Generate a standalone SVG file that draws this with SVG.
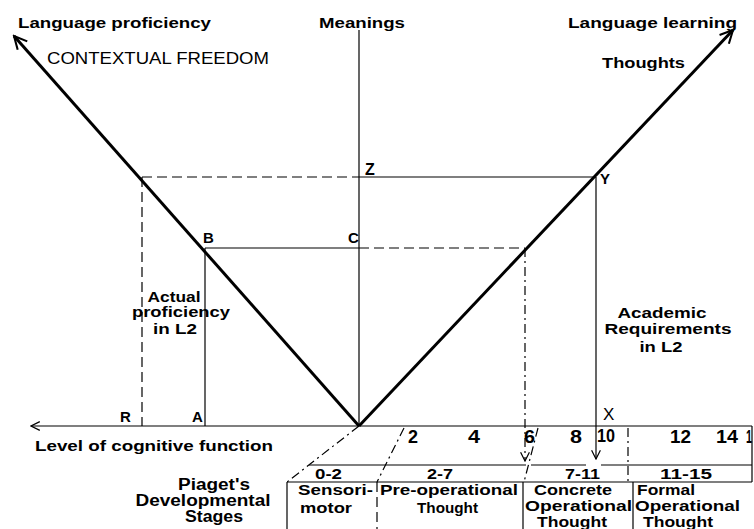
<svg xmlns="http://www.w3.org/2000/svg" width="754" height="529" viewBox="0 0 754 529">
<defs>
<style>
text{font-family:"Liberation Sans",Arial,sans-serif;fill:#000;}
.b{font-weight:bold;font-size:15px;}
.r{font-size:16px;}
.n{font-weight:bold;font-size:19px;}
.s{font-weight:bold;font-size:15px;}
.m{text-anchor:middle;}
.thin{stroke:#000;stroke-width:1.2;fill:none;}
.thick{stroke:#000;stroke-width:3;fill:none;}
.dash{stroke:#000;stroke-width:1.2;fill:none;stroke-dasharray:10 5;}
.dd{stroke:#000;stroke-width:1.2;fill:none;stroke-dasharray:9 4 2 4;}
</style>
<marker id="big" viewBox="0 0 10 10" refX="9" refY="5" markerUnits="userSpaceOnUse" markerWidth="16" markerHeight="16" orient="auto">
<path d="M1,1 L9,5 L1,9" fill="none" stroke="#000" stroke-width="1.3"/>
</marker>
<marker id="small" viewBox="0 0 10 10" refX="9" refY="5" markerUnits="userSpaceOnUse" markerWidth="11" markerHeight="14" orient="auto">
<path d="M1,1 L9,5 L1,9" fill="none" stroke="#000" stroke-width="1.1"/>
</marker>
</defs>
<rect width="754" height="529" fill="#fff"/>

<g id="connectors">
<line class="thin" x1="752" y1="426" x2="31" y2="426" marker-end="url(#small)"/>
<line class="thin" x1="359" y1="426" x2="359" y2="30"/>
<line class="thick" x1="359" y1="426" x2="14" y2="36" marker-end="url(#big)"/>
<line class="thick" x1="359" y1="426" x2="733" y2="30" marker-end="url(#big)"/>
<line class="dash" x1="142" y1="177" x2="359" y2="177"/>
<line class="thin" x1="359" y1="177" x2="596" y2="177"/>
<line class="thin" x1="205" y1="248" x2="359" y2="248"/>
<line class="dash" x1="359" y1="248" x2="525" y2="248"/>
<line class="dash" x1="142" y1="177" x2="142" y2="426"/>
<line class="thin" x1="205" y1="248" x2="205" y2="426"/>
<line class="dd" x1="525" y1="248" x2="525" y2="461" marker-end="url(#small)"/>
<line class="thin" x1="596" y1="177" x2="596" y2="459" marker-end="url(#small)"/>
<line class="dd" x1="359" y1="426" x2="287" y2="482"/>
<line class="dd" x1="404" y1="428" x2="377" y2="482"/>
<line class="dd" x1="538" y1="428" x2="524" y2="482"/>
<line class="dd" x1="628" y1="428" x2="628" y2="482"/>
<line class="thin" x1="309" y1="465" x2="526" y2="465"/>
<line class="thin" x1="531" y1="465" x2="586" y2="465"/>
<line class="thin" x1="601" y1="465" x2="752" y2="465"/>
<line class="thin" x1="287" y1="482" x2="752" y2="482"/>
<line class="thin" x1="752" y1="426" x2="752" y2="482"/>
<line class="thin" x1="287" y1="482" x2="287" y2="529"/>
<line class="dash" x1="377" y1="482" x2="377" y2="529"/>
<line class="thin" x1="523" y1="482" x2="523" y2="529"/>
<line class="thin" x1="633" y1="482" x2="633" y2="529"/>
</g>

<g id="top-labels">
<text class="b" x="18" y="28" textLength="193" lengthAdjust="spacingAndGlyphs">Language proficiency</text>
<text class="r" x="47" y="64" textLength="222" lengthAdjust="spacingAndGlyphs">CONTEXTUAL FREEDOM</text>
<text class="b" x="319" y="28" textLength="86" lengthAdjust="spacingAndGlyphs">Meanings</text>
<text class="b" x="568" y="28" textLength="169" lengthAdjust="spacingAndGlyphs">Language learning</text>
<text class="b" x="602" y="68" textLength="83" lengthAdjust="spacingAndGlyphs">Thoughts</text>
</g>

<g id="points">
<text class="b" x="365" y="175" style="font-size:16px">Z</text>
<text class="b" x="600" y="184">Y</text>
<text class="b" x="203" y="243">B</text>
<text class="b" x="348" y="243">C</text>
<text class="b" x="120" y="422">R</text>
<text class="b" x="192" y="422">A</text>
<text x="603" y="420" style="font-size:17px">X</text>
</g>

<g id="actual">
<text class="b m" x="174" y="302" textLength="53" lengthAdjust="spacingAndGlyphs">Actual</text>
<text class="b m" x="181" y="317" textLength="98" lengthAdjust="spacingAndGlyphs">proficiency</text>
<text class="b m" x="175" y="334" textLength="44" lengthAdjust="spacingAndGlyphs">in L2</text>
</g>

<g id="academic">
<text class="b m" x="662" y="318" textLength="89" lengthAdjust="spacingAndGlyphs">Academic</text>
<text class="b m" x="668" y="334" textLength="127" lengthAdjust="spacingAndGlyphs">Requirements</text>
<text class="b m" x="661" y="352" textLength="43" lengthAdjust="spacingAndGlyphs">in L2</text>
</g>

<g id="axis-label">
<text class="b" x="35" y="451" textLength="238" lengthAdjust="spacingAndGlyphs">Level of cognitive function</text>
</g>

<g id="ticks">
<text class="n" x="408" y="443" textLength="10" lengthAdjust="spacingAndGlyphs">2</text>
<text class="n" x="468" y="443" textLength="12" lengthAdjust="spacingAndGlyphs">4</text>
<text class="n" x="524" y="443" textLength="11" lengthAdjust="spacingAndGlyphs">6</text>
<text class="n" x="570" y="443" textLength="12" lengthAdjust="spacingAndGlyphs">8</text>
<text class="n" x="597" y="442" textLength="18" lengthAdjust="spacingAndGlyphs">10</text>
<text class="n" x="670" y="443" textLength="21" lengthAdjust="spacingAndGlyphs">12</text>
<text class="n" x="716" y="443" textLength="22" lengthAdjust="spacingAndGlyphs">14</text>
<text class="n" x="746" y="443" textLength="6" lengthAdjust="spacingAndGlyphs">1</text>
</g>

<g id="piaget">
<text class="b m" x="214" y="490" style="font-size:16px" textLength="72" lengthAdjust="spacingAndGlyphs">Piaget's</text>
<text class="b m" x="203" y="506" style="font-size:16px" textLength="135" lengthAdjust="spacingAndGlyphs">Developmental</text>
<text class="b m" x="214" y="522" style="font-size:16px" textLength="58" lengthAdjust="spacingAndGlyphs">Stages</text>
</g>

<g id="stage-0-2">
<text class="s" x="315" y="479" textLength="27" lengthAdjust="spacingAndGlyphs">0-2</text>
<text class="s" x="298" y="495" textLength="75" lengthAdjust="spacingAndGlyphs">Sensori-</text>
<text class="s" x="300" y="513" textLength="52" lengthAdjust="spacingAndGlyphs">motor</text>
</g>
<g id="stage-2-7">
<text class="s" x="427" y="479" textLength="26" lengthAdjust="spacingAndGlyphs">2-7</text>
<text class="s" x="380" y="495" textLength="138" lengthAdjust="spacingAndGlyphs">Pre-operational</text>
<text class="s" x="417" y="513" textLength="61" lengthAdjust="spacingAndGlyphs">Thought</text>
</g>
<g id="stage-7-11">
<text class="s" x="565" y="479" textLength="35" lengthAdjust="spacingAndGlyphs">7-11</text>
<text class="s" x="534" y="495" textLength="78" lengthAdjust="spacingAndGlyphs">Concrete</text>
<text class="s" x="525" y="511" textLength="107" lengthAdjust="spacingAndGlyphs">Operational</text>
<text class="s" x="537" y="527" textLength="70" lengthAdjust="spacingAndGlyphs">Thought</text>
</g>
<g id="stage-11-15">
<text class="s" x="660" y="479" textLength="52" lengthAdjust="spacingAndGlyphs">11-15</text>
<text class="s" x="637" y="495" textLength="58" lengthAdjust="spacingAndGlyphs">Formal</text>
<text class="s" x="635" y="511" textLength="105" lengthAdjust="spacingAndGlyphs">Operational</text>
<text class="s" x="643" y="527" textLength="70" lengthAdjust="spacingAndGlyphs">Thought</text>
</g>
</svg>
